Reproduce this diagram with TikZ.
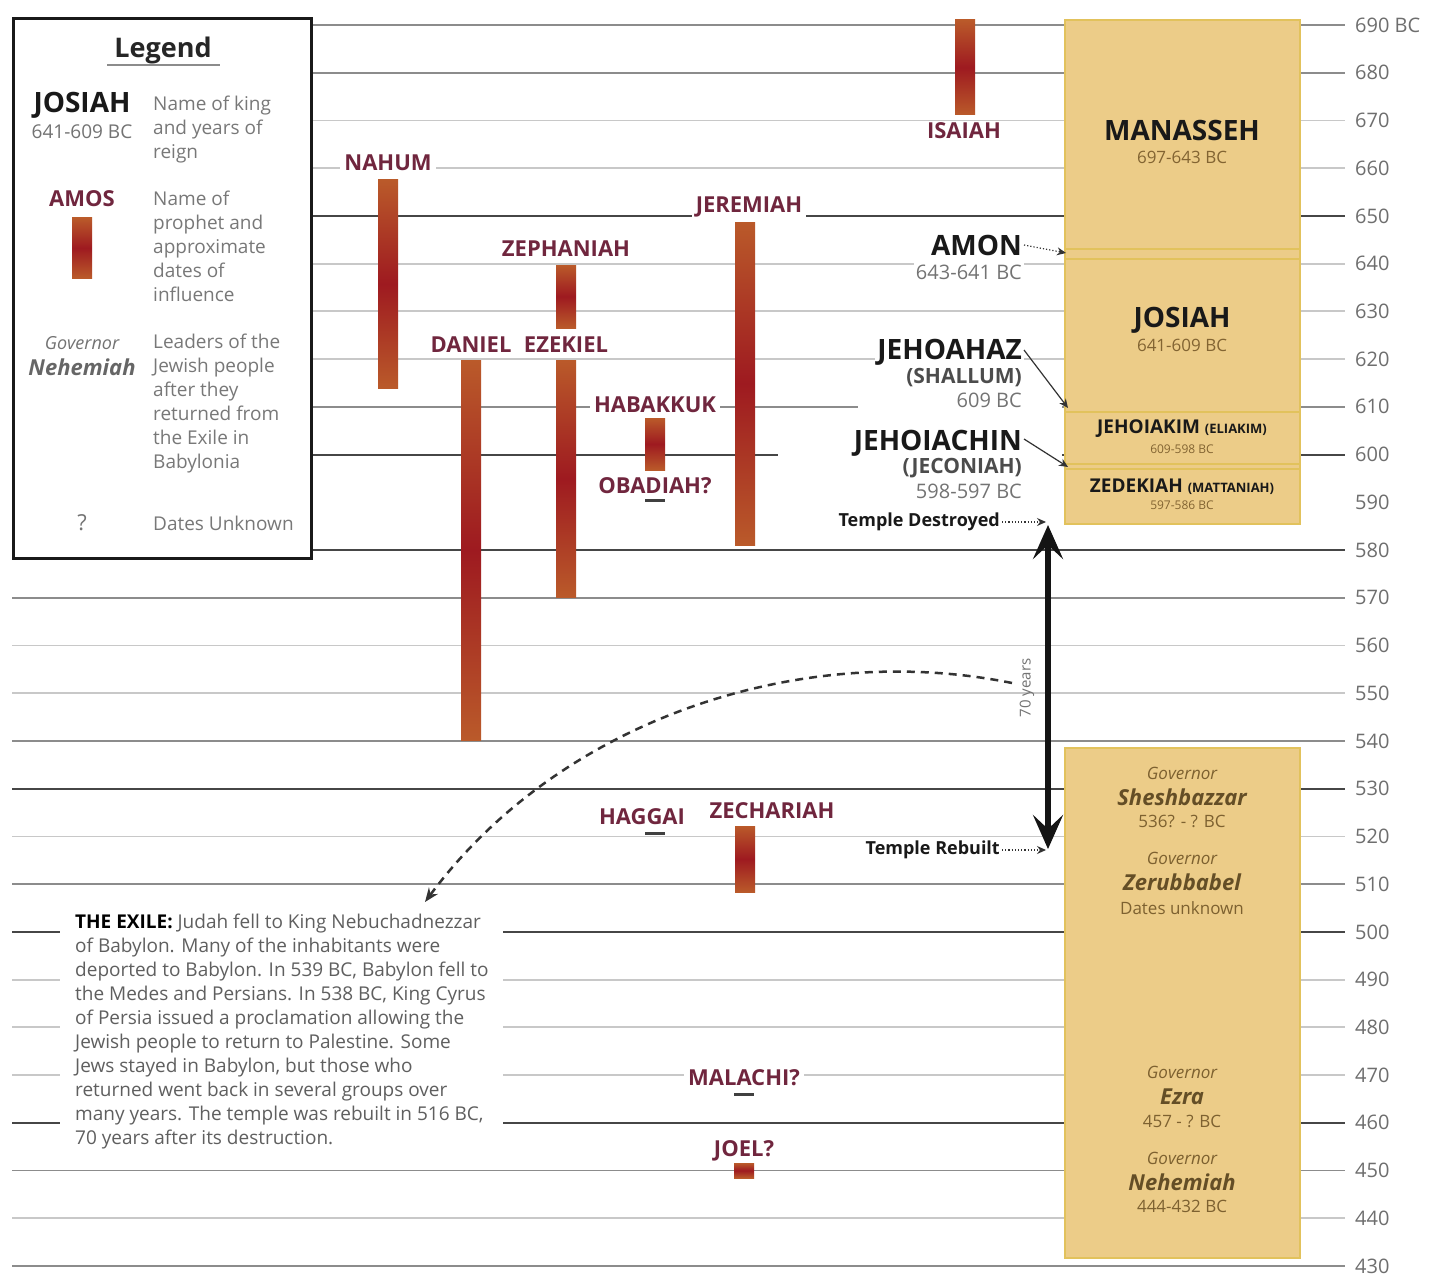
\documentclass[tikz,border=0pt]{standalone}
\usepackage{fontspec}
\setmainfont{Open Sans}
\usetikzlibrary{arrows.meta}
\definecolor{prophet}{RGB}{112,38,62}
\definecolor{barA}{RGB}{186,90,42}
\definecolor{barB}{RGB}{158,26,32}
\definecolor{kingfill}{RGB}{236,204,136}
\definecolor{kingedge}{RGB}{226,194,92}
\definecolor{kingdate}{RGB}{130,100,50}
\definecolor{govtext}{RGB}{125,97,48}
\definecolor{govname}{RGB}{100,78,38}
\definecolor{txtgray}{RGB}{115,115,115}
\definecolor{leggray}{RGB}{120,120,120}
\definecolor{exgray}{RGB}{95,95,95}
\definecolor{yrgray}{RGB}{110,110,110}
\definecolor{lnDark}{RGB}{70,70,70}
\definecolor{lnMid}{RGB}{140,140,140}
\definecolor{lnLight}{RGB}{200,200,200}
\newcommand\myfs[1]{\fontsize{#1}{#1}\selectfont}
\newcommand\myfl[2]{\fontsize{#1}{#2}\selectfont}
\begin{document}
\begin{tikzpicture}[x=1pt,y=-1pt,
  yearlbl/.style={anchor=west, font=\myfs{20}, text=yrgray, inner sep=0pt},
  lnD/.style={draw=lnDark, line width=2pt},
  lnM/.style={draw=lnMid, line width=1.8pt},
  lnL/.style={draw=lnLight, line width=1.8pt},
  lnN/.style={draw=none},
  plabel/.style={font=\bfseries\myfs{22}, text=prophet, fill=white, inner xsep=4pt, inner ysep=2pt},
  pbar/.style={top color=barA, bottom color=barA, middle color=barB},
  pdash/.style={draw=black!75, line width=3pt},
  kname/.style={font=\bfseries\myfs{28}, text=black!90, inner sep=0pt},
  kdate/.style={font=\myfs{17}, text=kingdate, inner sep=0pt},
  sname/.style={anchor=east, font=\bfseries\myfs{28}, text=black!90, fill=white, inner sep=2pt},
  ssub/.style={anchor=east, font=\bfseries\myfs{21}, text=black!70, fill=white, inner sep=2pt},
  sdate/.style={anchor=east, font=\myfs{20}, text=txtgray, fill=white, inner sep=2pt},
  tlbl/.style={anchor=east, font=\bfseries\myfs{18}, text=black!90, fill=white, inner sep=2pt},
  govl/.style={font=\itshape\myfs{17}, text=govtext, inner sep=0pt},
  govn/.style={font=\bfseries\itshape\myfs{22}, text=govname, inner sep=0pt},
  govd/.style={font=\myfs{17}, text=govtext, inner sep=0pt},
  legd/.style={anchor=north west, align=left, font=\myfl{19}{24}, text=leggray, inner sep=0pt},
  kbox/.style={fill=kingfill, draw=kingedge, line width=2.5pt},
  kdiv/.style={draw=kingedge, line width=2.5pt},
  ptr/.style={-{Stealth[length=9pt,width=8pt]}, line width=1.2pt, draw=black!80},
  dptr/.style={ptr, dotted},
  bigarr/.style={{Stealth[length=34pt,width=30pt,inset=14pt]}-{Stealth[length=34pt,width=30pt,inset=14pt]}, line width=6pt, draw=black!92},
  exarc/.style={-{Stealth[length=14pt,width=11pt]}, line width=2.5pt, draw=black!80, dash pattern=on 8pt off 6pt}
]
\useasboundingbox (0,0) rectangle (1429,1276);
\fill[white] (0,0) rectangle (1429,1276);

% ---------- timeline lines ----------
\foreach \yr/\st in {690/M,680/M,670/L,660/L,650/D,640/L,630/L,620/L,610/M,600/D,590/N,580/D,570/M,560/L,550/L,540/M,530/D,520/L,510/M,500/D,490/L,480/L,470/L,460/D,450/M,440/L,430/M}{
  \pgfmathsetmacro\yy{25+(690-\yr)*4.773}
  \pgfmathsetmacro\xs{\yr>579 ? 310 : 12}
  \draw[ln\st] (\xs,\yy) -- (1345,\yy);
  \node[yearlbl] (yr\yr) at (1355,\yy) {\ifnum\yr=690 \yr~BC\else\yr\fi};
}
% gaps of the reference
\fill[white] (778,447) rectangle (1062,463);
\fill[white] (858,400) rectangle (1062,414);

% ---------- legend ----------
\node[draw=black!90, line width=3pt, fill=white, anchor=north west, minimum width=298pt, minimum height=540pt, inner sep=0pt] (legend) at (12,17) {};
\node[font=\bfseries\myfs{27}, text=black!85, inner sep=0pt] (legtitle) at (163,50) {Legend};
\draw[black!45, line width=1.2pt] (107,65) -- (220,65);
\node[kname, font=\bfseries\myfs{28}] (legking) at (82,105) {JOSIAH};
\node[font=\myfs{19}, text=txtgray, inner sep=0pt] (legkdate) at (82,132) {641-609 BC};
\node[legd] (legkd) at (153,96) {Name of king\\and years of\\reign};
\node[plabel] (legamos) at (82,199) {AMOS};
\shade[pbar] (72,218) rectangle (92,278);
\node[legd] (legpd) at (153,191) {Name of\\prophet and\\approximate\\dates of\\influence};
\node[font=\itshape\myfs{18}, text=txtgray, inner sep=0pt] (leggov) at (82,343) {Governor};
\node[font=\bfseries\itshape\myfs{22}, text=black!60, inner sep=0pt] (legneh) at (82,367) {Nehemiah};
\node[legd] (leggd) at (153,334) {Leaders of the\\Jewish people\\after they\\returned from\\the Exile in\\Babylonia};
\node[font=\myfs{22}, text=txtgray, inner sep=0pt] (legq) at (82,523) {?};
\node[legd, anchor=west] (legqd) at (153,523) {Dates Unknown};

% ---------- exile text ----------
\node[anchor=north west, fill=white, inner xsep=15pt, inner ysep=6pt, align=left, font=\myfl{19}{24}, text=exgray] (exile) at (60,908)
 {\textbf{\color{black}THE EXILE:} Judah fell to King Nebuchadnezzar\\
  of Babylon. Many of the inhabitants were\\
  deported to Babylon. In 539 BC, Babylon fell to\\
  the Medes and Persians. In 538 BC, King Cyrus\\
  of Persia issued a proclamation allowing the\\
  Jewish people to return to Palestine. Some\\
  Jews stayed in Babylon, but those who\\
  returned went back in several groups over\\
  many years. The temple was rebuilt in 516 BC,\\
  70 years after its destruction.};

% ---------- king boxes ----------
\filldraw[kbox] (1065,20) rectangle (1300,524);
\draw[kdiv] (1065,249) -- (1300,249);
\draw[kdiv] (1065,259) -- (1300,259);
\draw[kdiv, line width=1.2pt] (1065,412) -- (1300,412);
\draw[kdiv] (1065,464) -- (1300,464);
\draw[kdiv] (1065,469) -- (1300,469);
\node[kname] (manasseh) at (1182,131) {MANASSEH};
\node[kdate] (manassehd) at (1182,157) {697-643 BC};
\node[kname] (josiah) at (1182,320) {JOSIAH};
\node[kdate] (josiahd) at (1182,345) {641-609 BC};
\node[kname, font=\bfseries\myfs{19}] (jehoiakim) at (1182,429) {JEHOIAKIM {\myfs{13}(ELIAKIM)}};
\node[kdate, font=\myfs{12}] (jehoiakimd) at (1182,449) {609-598 BC};
\node[kname, font=\bfseries\myfs{19}] (zedekiah) at (1182,487) {ZEDEKIAH {\myfs{13}(MATTANIAH)}};
\node[kdate, font=\myfs{12}] (zedekiahd) at (1182,505) {597-586 BC};

% ---------- governor box ----------
\filldraw[kbox] (1065,748) rectangle (1300,1258);
\node[govl] (g1) at (1182,773) {Governor};
\node[govn] (shesh) at (1182,797) {Sheshbazzar};
\node[govd] (sheshd) at (1182,821) {536? - ? BC};
\node[govl] (g2) at (1182,858) {Governor};
\node[govn] (zerub) at (1182,882) {Zerubbabel};
\node[govd] (zerubd) at (1182,908) {Dates unknown};
\node[govl] (g3) at (1182,1072) {Governor};
\node[govn] (ezra) at (1182,1097) {Ezra};
\node[govd] (ezrad) at (1182,1121) {457 - ? BC};
\node[govl] (g4) at (1182,1158) {Governor};
\node[govn] (nehem) at (1182,1182) {Nehemiah};
\node[govd] (nehemd) at (1182,1206) {444-432 BC};

% ---------- prophet bars ----------
\shade[pbar] (955,20) rectangle (975,115);
\shade[pbar] (378,180) rectangle (398,388);
\shade[pbar] (735,222) rectangle (755,545);
\shade[pbar] (556,265) rectangle (576,328);
\shade[pbar] (461,360) rectangle (481,740);
\shade[pbar] (556,360) rectangle (576,597);
\shade[pbar] (645,418) rectangle (665,470);
\shade[pbar] (735,826) rectangle (755,892);
\shade[pbar] (734,1163) rectangle (754,1178);
\draw[pdash] (645,500) -- (665,500);
\draw[pdash] (645,833) -- (665,833);
\draw[pdash] (734,1094) -- (754,1094);

% ---------- prophet labels ----------
\node[plabel] (isaiah) at (964,131) {ISAIAH};
\node[plabel] (nahum) at (388,163) {NAHUM};
\node[plabel] (jeremiah) at (749,207) {JEREMIAH};
\node[plabel] (zephaniah) at (566,249) {ZEPHANIAH};
\node[plabel] (daniel) at (471,345) {DANIEL};
\node[plabel] (ezekiel) at (566,345) {EZEKIEL};
\node[plabel] (habakkuk) at (655,405) {HABAKKUK};
\node[plabel] (obadiah) at (655,486) {OBADIAH?};
\node[plabel] (haggai) at (642,817) {HAGGAI};
\node[plabel] (zechariah) at (772,811) {ZECHARIAH};
\node[plabel] (malachi) at (744,1078) {MALACHI?};
\node[plabel] (joel) at (744,1151) {JOEL?};

% ---------- side king labels ----------
\node[sname] (amon) at (1024,245) {AMON};
\node[sdate] (amond) at (1024,272) {643-641 BC};
\node[sname] (jehoahaz) at (1024,352) {JEHOAHAZ};
\node[ssub] (shallum) at (1024,378) {(SHALLUM)};
\node[sdate] (jehoahazd) at (1024,400) {609 BC};
\node[sname] (jehoiachin) at (1024,443) {JEHOIACHIN};
\node[ssub] (jeconiah) at (1024,468) {(JECONIAH)};
\node[sdate] (jehoiachind) at (1024,491) {598-597 BC};
\node[tlbl] (tdes) at (1002,522) {Temple Destroyed};
\node[tlbl] (treb) at (1002,850) {Temple Rebuilt};

\coordinate (amonEnd) at (1066,253);
\coordinate (jhzEnd) at (1068,408);
\coordinate (jhcEnd) at (1068,467);
\coordinate (tdEnd) at (1046,522);
\coordinate (trEnd) at (1046,850);
\coordinate (arTop) at (1048,525);
\coordinate (arBot) at (1048,849);
\coordinate (arcStart) at (1012,683);
\coordinate (arcEnd) at (425,902);

\draw[dptr] (amon.east) -- (amonEnd);
\draw[ptr] ([yshift=2pt]jehoahaz.east) -- (jhzEnd);
\draw[ptr] ([yshift=4pt]jehoiachin.east) -- (jhcEnd);
\draw[dptr] (tdes.east) -- (tdEnd);
\draw[dptr] (treb.east) -- (trEnd);
\draw[bigarr] (arTop) -- (arBot);
\node[font=\myfs{15}, text=txtgray, rotate=90, inner sep=1pt] (seventy) at (1027,688) {70 years};
\draw[exarc] (arcStart) .. controls (800,640) and (560,720) .. (arcEnd);
\end{tikzpicture}
\end{document}
